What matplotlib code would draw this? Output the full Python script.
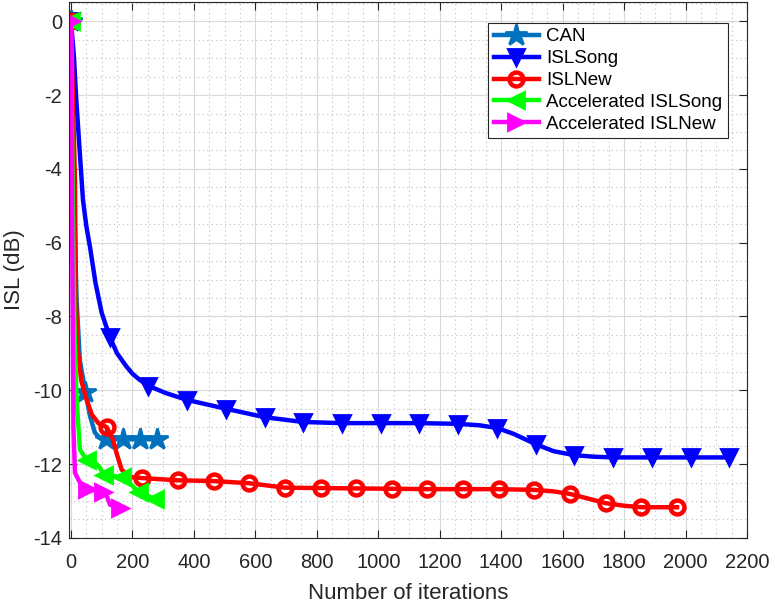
import matplotlib
matplotlib.use("Agg")
import matplotlib.pyplot as plt
from matplotlib.ticker import MultipleLocator

plt.rcParams['font.family'] = ['Liberation Sans', 'DejaVu Sans']
plt.rcParams['axes.unicode_minus'] = False

# CAN
can_x = [0, 8, 18, 29, 47, 62, 78, 95, 113, 170, 224, 279]
can_y = [0, -4.0, -7.5, -9.2, -10.05, -10.7, -11.15, -11.3, -11.33, -11.33, -11.33, -11.33]
can_mk = [0, 4, 8, 9, 10, 11]

# ISLSong
song_x = [0, 10, 17, 39, 50, 62, 80, 100, 126, 150, 180, 200, 224, 252, 310, 378, 440,
          504, 630, 756, 882, 1008, 1134, 1260, 1330, 1386, 1440, 1512, 1570, 1638,
          1700, 1764, 1890, 2016, 2142]
song_y = [0, -1.0, -2.1, -4.84, -5.55, -6.12, -7.1, -7.9, -8.55, -9.0, -9.35, -9.55,
          -9.72, -9.88, -10.08, -10.26, -10.38, -10.5, -10.73, -10.86, -10.89, -10.89,
          -10.89, -10.91, -10.95, -11.02, -11.18, -11.46, -11.65, -11.76, -11.8, -11.82,
          -11.82, -11.82, -11.82]
song_mk = [0, 8, 13, 15, 17, 18, 19, 20, 21, 22, 23, 25, 27, 29, 31, 32, 33, 34]

# ISLNew
new_x = [0, 13, 16, 22, 33, 51, 68, 90, 116, 135, 150, 165, 190, 232, 348, 464, 580,
         696, 812, 928, 1044, 1160, 1276, 1392, 1508, 1570, 1624, 1680, 1740, 1800,
         1856, 1972]
new_y = [0, -4.3, -7.5, -8.9, -9.72, -10.26, -10.66, -10.9, -11.0, -11.3, -11.75, -12.15,
         -12.35, -12.38, -12.44, -12.46, -12.52, -12.64, -12.65, -12.66, -12.67, -12.68,
         -12.68, -12.68, -12.7, -12.74, -12.81, -12.93, -13.06, -13.13, -13.17, -13.17]
new_mk = [0, 8, 13, 14, 15, 16, 17, 18, 19, 20, 21, 22, 23, 24, 26, 28, 30, 31]

# Accelerated ISLSong
asong_x = [0, 6, 12, 18, 29, 51, 75, 90, 108, 165, 195, 220, 275]
asong_y = [0, -5.0, -8.5, -10.18, -11.6, -11.9, -11.95, -12.05, -12.3, -12.35, -12.55,
           -12.76, -12.95]
asong_mk = [0, 5, 8, 9, 11, 12]

# Accelerated ISLNew
anew_x = [0, 4, 8, 13, 29, 51, 105, 118, 127, 159]
anew_y = [0, -6.0, -11.0, -12.24, -12.5, -12.68, -12.75, -12.9, -13.1, -13.2]
anew_mk = [0, 5, 6, 9]

fig = plt.figure(figsize=(7.75, 6.05), dpi=100)
ax = fig.add_axes([0.089, 0.111, 0.875, 0.886])

lw = 3.2
ax.plot(can_x, can_y, color='#0072BD', lw=lw, marker='*', ms=16, mew=2,
        markevery=can_mk, label='CAN')
ax.plot(song_x, song_y, color='#0000FF', lw=lw, marker='v', ms=12, mew=2,
        markevery=song_mk, label='ISLSong')
ax.plot(new_x, new_y, color='#FF0000', lw=lw, marker='o', ms=10, mfc='none', mew=lw,
        markevery=new_mk, label='ISLNew')
ax.plot(asong_x, asong_y, color='#00FF00', lw=lw, marker='<', ms=12, mew=2,
        markevery=asong_mk, label='Accelerated ISLSong')
ax.plot(anew_x, anew_y, color='#FF00FF', lw=lw, marker='>', ms=12, mew=2,
        markevery=anew_mk, label='Accelerated ISLNew')

ax.set_xlim(-6.5, 2200)
ax.set_ylim(-14, 0.53)
ax.xaxis.set_major_locator(MultipleLocator(200))
ax.xaxis.set_minor_locator(MultipleLocator(50))
ax.yaxis.set_major_locator(MultipleLocator(2))
ax.yaxis.set_minor_locator(MultipleLocator(0.5))

ax.grid(True, which='major', color='#d9d9d9', linestyle='-', linewidth=0.8)
ax.grid(True, which='minor', color='#bfbfbf', linestyle=(0, (1, 3)), linewidth=0.8)
ax.set_axisbelow(True)
ax.tick_params(which='major', direction='in', top=True, right=True, length=6,
               width=0.8, labelsize=14.5, colors='#262626')
ax.tick_params(axis='x', which='major', pad=11)
ax.tick_params(axis='y', which='major', pad=5)
ax.tick_params(which='minor', length=0, top=True, right=True)
for s in ax.spines.values():
    s.set_color('#262626')
    s.set_linewidth(0.8)

ax.set_xlabel('Number of iterations', fontsize=16, color='#262626', labelpad=8)
ax.set_ylabel('ISL (dB)', fontsize=16, color='#262626', labelpad=6)

leg = ax.legend(loc='upper right', bbox_to_anchor=(0.972, 0.961), fontsize=13.5,
                handlelength=2.4, fancybox=False, edgecolor='#262626', framealpha=1,
                borderpad=0.3, labelspacing=0.25, handletextpad=0.4,
                borderaxespad=0)
leg.get_frame().set_linewidth(0.8)

fig.savefig('out.png', dpi=100)
